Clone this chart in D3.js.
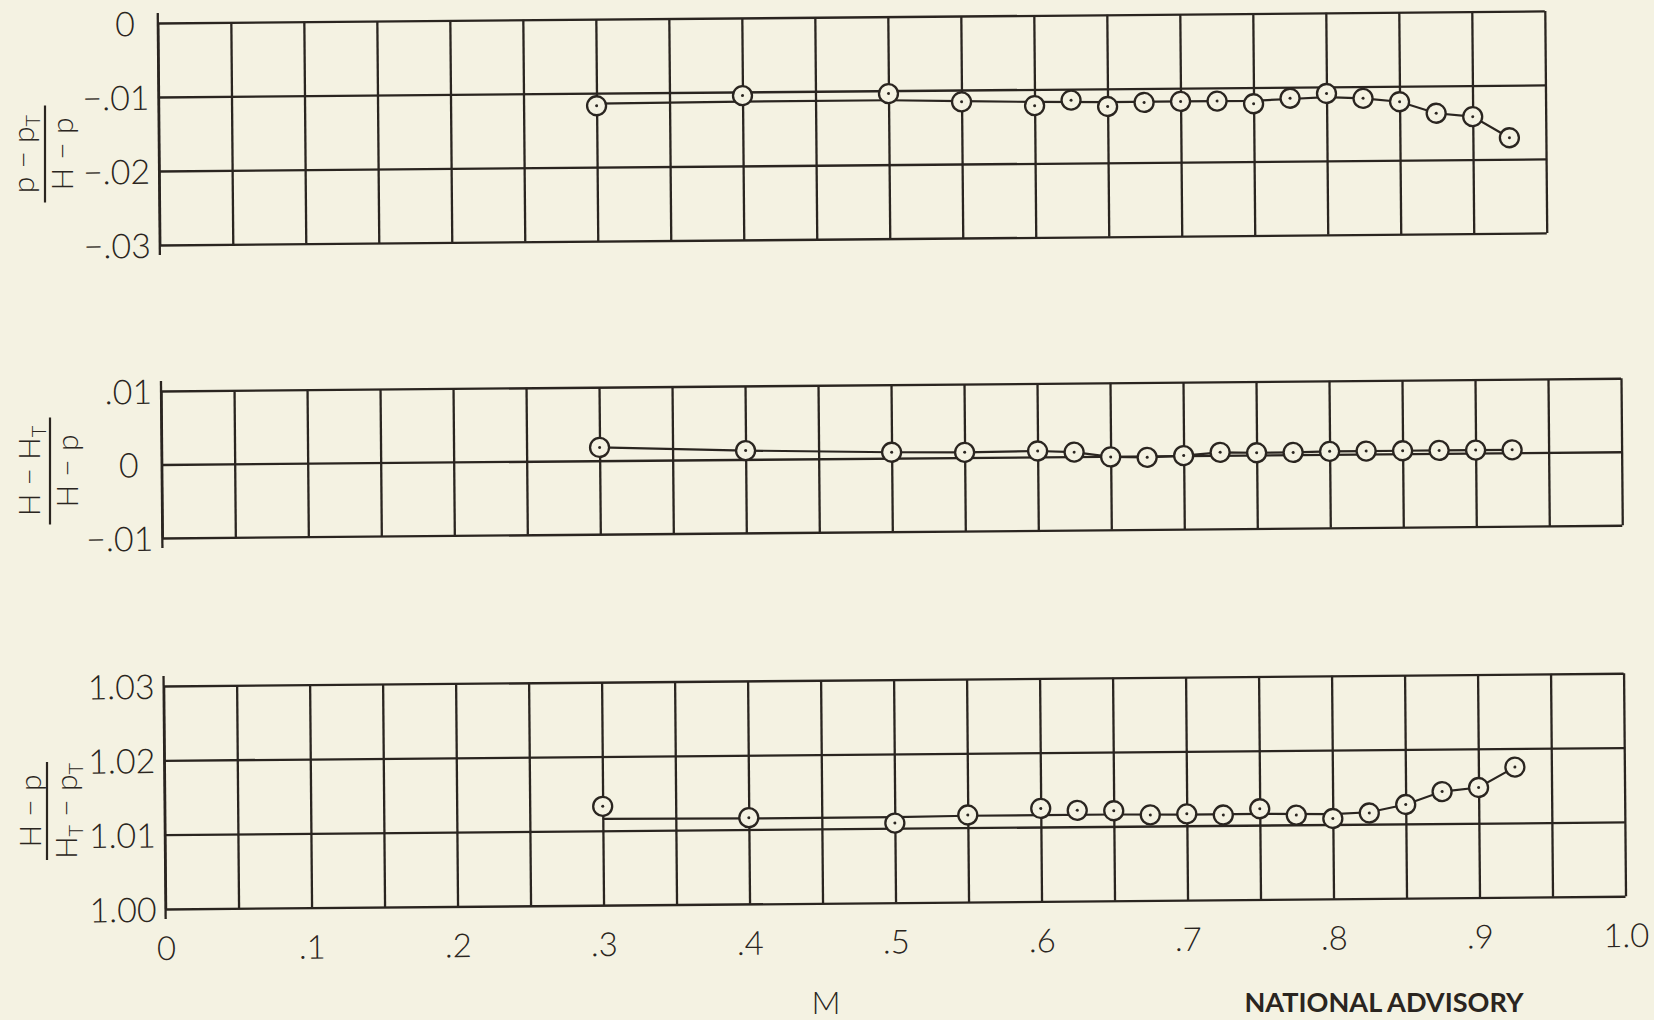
<!DOCTYPE html>
<html><head><meta charset="utf-8">
<script src="https://cdn.jsdelivr.net/npm/d3@7"></script>
<style>
html,body{margin:0;padding:0;background:#f4f2e2;}
svg{display:block;}
</style></head>
<body><svg id="c" width="1654" height="1020"></svg>
<script>
// ---------------- data ----------------
const machNumbers = [0.30,0.40,0.50,0.55,0.60,0.625,0.65,0.675,0.70,0.725,0.75,0.775,0.80,0.825,0.85,0.875,0.90,0.925];
// (p - pT)/(H - p)
const staticRatio = [-0.0117,-0.0105,-0.0104,-0.0116,-0.0122,-0.0115,-0.0124,-0.0119,-0.0118,-0.0118,-0.0122,-0.0115,-0.0109,-0.0116,-0.0121,-0.0137,-0.0142,-0.0171];
// (H - HT)/(H - p)
const totalRatio = [0.0018,0.0012,0.0008,0.0007,0.0008,0.0006,-0.0001,-0.0002,0.0000,0.0004,0.0003,0.0003,0.0004,0.0004,0.0004,0.0004,0.0004,0.0004];
// (H - p)/(HT - pT)
const dynamicRatio = [1.0133,1.0116,1.0107,1.0117,1.0125,1.0122,1.0121,1.0115,1.0116,1.0114,1.0122,1.0113,1.0108,1.0115,1.0126,1.0143,1.0148,1.0175];

// faired curves
const staticFairM = [0.30,0.40,0.50,0.55,0.60,0.65,0.70,0.75,0.775,0.80,0.825,0.85,0.875,0.90,0.925];
const staticFairV = [-0.0114,-0.0113,-0.0113,-0.0115,-0.0117,-0.0118,-0.0118,-0.0118,-0.0116,-0.0114,-0.0116,-0.0121,-0.0137,-0.0142,-0.0171];
const totalFairM = machNumbers;
const totalFairV = totalRatio;
const dynamicFairM = [0.30,0.40,0.50,0.55,0.60,0.65,0.70,0.75,0.80,0.825,0.85,0.875,0.90,0.925];
const dynamicFairV = [1.0116,1.0115,1.0115,1.0116,1.0116,1.0116,1.0115,1.0115,1.0114,1.0116,1.0126,1.0143,1.0148,1.0175];

// ticks
const xTicks = [0,0.1,0.2,0.3,0.4,0.5,0.6,0.7,0.8,0.9,1.0];
const xTickLabels = ["0",".1",".2",".3",".4",".5",".6",".7",".8",".9","1.0"];
const staticTicks = [0,-0.01,-0.02,-0.03];
const staticTickLabels = ["0","\u2212.01","\u2212.02","\u2212.03"];
const totalTicks = [0.01,0,-0.01];
const totalTickLabels = [".01","0","\u2212.01"];
const dynamicTicks = [1.03,1.02,1.01,1.00];
const dynamicTickLabels = ["1.03","1.02","1.01","1.00"];

// ---------------- drawing ----------------
const INK = "#2a2520", BG = "#f4f2e2";
const FONT = "Lato, 'DejaVu Sans', sans-serif";
const svg = d3.select("#c");
svg.append("rect").attr("width",1654).attr("height",1020).attr("fill",BG);

const root = svg.append("g").attr("transform","rotate(-0.5,162,500)");
const x = d3.scaleLinear().domain([0,1]).range([162,1622]);
const gridStep = 0.05;

const panels = [
  {top:23, bottom:245, xMax:0.95, ticks:staticTicks, labels:staticTickLabels, vals:staticRatio, fm:staticFairM, fv:staticFairV},
  {top:391, bottom:538, xMax:1.0, ticks:totalTicks, labels:totalTickLabels, vals:totalRatio, fm:totalFairM, fv:totalFairV},
  {top:686, bottom:909, xMax:1.0, ticks:dynamicTicks, labels:dynamicTickLabels, vals:dynamicRatio, fm:dynamicFairM, fv:dynamicFairV}
];

panels.forEach(p => {
  const y = d3.scaleLinear().domain([p.ticks[p.ticks.length-1], p.ticks[0]]).range([p.bottom, p.top]);
  const g = root.append("g");
  const nCols = Math.round(p.xMax/gridStep);
  const gridX = d3.range(0, nCols+1).map(i => +(i*gridStep).toFixed(3));
  const w = x(p.xMax) - x(0);

  // vertical grid
  g.append("g").attr("transform",`translate(0,${p.bottom})`)
    .call(d3.axisBottom(x).tickValues(gridX).tickSize(-(p.bottom-p.top)).tickSizeOuter(0).tickFormat(""))
    .call(s => s.select(".domain").remove());
  // horizontal grid
  g.append("g").attr("transform",`translate(${x(0)},0)`)
    .call(d3.axisLeft(y).tickValues(p.ticks).tickSize(-w).tickSizeOuter(0).tickFormat(""))
    .call(s => s.select(".domain").remove());
  g.selectAll("line").attr("stroke",INK).attr("stroke-width",2.3);
  // left axis line extends slightly
  g.append("line").attr("x1",x(0)).attr("x2",x(0)).attr("y1",p.top-10).attr("y2",p.bottom+10)
    .attr("stroke",INK).attr("stroke-width",2.3);

  // tick labels
  const lab = g.append("g").attr("transform",`translate(${x(0)-9},0)`)
    .call(d3.axisLeft(y).tickValues(p.ticks).tickFormat((d,i)=>p.labels[i]).tickSize(0).tickPadding(0));
  lab.select(".domain").remove();
  lab.selectAll("text").attr("fill",INK).attr("font-family",FONT).attr("font-weight",300)
    .attr("font-size",34).attr("dy","0.36em")
    .attr("dx", (d,i) => p.labels[i] === "0" ? -14 : 0);

  // faired curve
  const line = d3.line().x(d=>x(d[0])).y(d=>y(d[1]));
  g.append("path").datum(p.fm.map((m,i)=>[m,p.fv[i]])).attr("d",line)
    .attr("fill","none").attr("stroke",INK).attr("stroke-width",2.2);

  // points
  const pts = g.append("g").selectAll("g").data(machNumbers.map((m,i)=>[m,p.vals[i]])).join("g")
    .attr("transform", d=>`translate(${x(d[0])},${y(d[1])})`);
  pts.append("circle").attr("r",9.5).attr("fill",BG).attr("stroke",INK).attr("stroke-width",2.3);
  pts.append("circle").attr("r",1.5).attr("fill",INK);
});

// x tick labels
const xl = root.append("g").attr("transform","translate(0,948)")
  .call(d3.axisBottom(x).tickValues(xTicks).tickFormat((d,i)=>xTickLabels[i]).tickSize(0).tickPadding(0));
xl.select(".domain").remove();
xl.selectAll("text").attr("fill",INK).attr("font-family",FONT).attr("font-weight",300)
  .attr("font-size",33).attr("dy","0.36em");

// x axis title
svg.append("text").attr("x",826).attr("y",1014).attr("text-anchor","middle")
  .attr("font-family",FONT).attr("font-weight",300).attr("font-size",32).attr("fill",INK).text("M");
svg.append("text").attr("x",1384).attr("y",1012).attr("text-anchor","middle")
  .attr("font-family",FONT).attr("font-weight",700).attr("font-size",27).attr("fill",INK)
  .attr("textLength",279).attr("lengthAdjust","spacingAndGlyphs").text("NATIONAL ADVISORY");

// y axis titles as stacked fractions (rotated, reading upward)
function fraction(cx, cy, barLen, num, numBase, den, denBase) {
  const g = svg.append("g").attr("transform",`translate(${cx},${cy}) rotate(-90)`)
    .attr("font-family",FONT).attr("font-weight",300).attr("font-size",30).attr("fill",INK);
  g.append("line").attr("x1",-barLen/2).attr("x2",barLen/2).attr("y1",0).attr("y2",0)
    .attr("stroke",INK).attr("stroke-width",2.2);
  const put = (parts, yb) => {
    const t = g.append("text").attr("x",0).attr("y",yb).attr("text-anchor","middle");
    parts.forEach(pt => {
      const s = t.append("tspan").text(pt.t);
      if (pt.sub) s.attr("font-size",20).attr("baseline-shift","-30%");
    });
  };
  put(num, numBase);
  put(den, denBase);
}
fraction(45, 154, 97, [{t:"p \u2212 p"},{t:"T",sub:true}], -11, [{t:"H \u2212 p"}], 28);
fraction(50, 471, 107, [{t:"H \u2212 H"},{t:"T",sub:true}], -10, [{t:"H \u2212 p"}], 28);
fraction(47, 811, 98, [{t:"H \u2212 p"}], -6, [{t:"H"},{t:"T",sub:true},{t:" \u2212 p"},{t:"T",sub:true}], 30);
</script>
</body></html>
